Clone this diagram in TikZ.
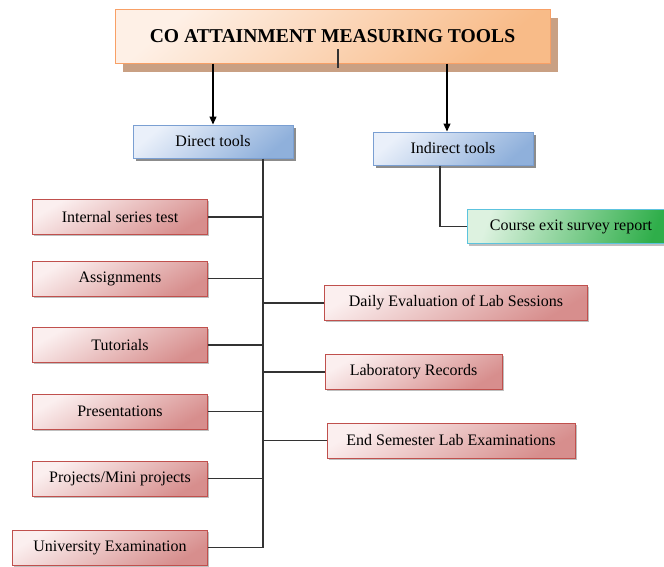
\documentclass[tikz,border=0pt]{standalone}
\usepackage{fontspec}
\setmainfont{Liberation Serif}
\usetikzlibrary{shadows,arrows.meta}

\definecolor{orTop}{HTML}{FEF0E6}
\definecolor{orBot}{HTML}{F8BB88}
\definecolor{orEdge}{HTML}{F8A066}
\definecolor{orShadow}{HTML}{C9A083}
\definecolor{blTop}{HTML}{EAF0FA}
\definecolor{blBot}{HTML}{8FB0DB}
\definecolor{blEdge}{HTML}{7A9FD2}
\definecolor{rdTop}{HTML}{FBEFEF}
\definecolor{rdBot}{HTML}{D78E8D}
\definecolor{rdEdge}{HTML}{C0504D}
\definecolor{grTop}{HTML}{DDF2E0}
\definecolor{grBot}{HTML}{2FAE4A}
\definecolor{grEdge}{HTML}{5CC3DE}
\definecolor{wire}{HTML}{333333}

\tikzset{
  box/.style={draw, line width=1pt, inner sep=0pt, align=center,
    font=\fontsize{16}{18}\selectfont, text=black},
  titlebox/.style={box, draw=orEdge, top color=orTop, bottom color=orBot,
    shading angle=40, font=\fontsize{19.6}{22}\selectfont\bfseries,
    general shadow={fill=orShadow, shadow xshift=8pt, shadow yshift=-9pt},
    minimum width=435pt, minimum height=54pt},
  bluebox/.style={box, draw=blEdge, top color=blTop, bottom color=blBot,
    shading angle=40,
    general shadow={fill=black!45, shadow xshift=3pt, shadow yshift=-3pt},
    minimum width=160pt, minimum height=33pt},
  redbox/.style={box, draw=rdEdge, top color=rdTop, bottom color=rdBot,
    shading angle=30,
    general shadow={fill=black!25, shadow xshift=1.5pt, shadow yshift=-1.5pt},
    minimum height=35pt},
  greenbox/.style={box, draw=grEdge, top color=grTop, bottom color=grBot,
    shading angle=70,
    general shadow={fill=black!25, shadow xshift=2pt, shadow yshift=-2pt},
    minimum width=208pt, minimum height=34pt},
  wireline/.style={draw=wire, line width=1.3pt},
  arr/.style={draw=black, line width=1.2pt, -{Triangle[length=8pt,width=7pt]}}
}

\begin{document}
\begin{tikzpicture}[x=1pt,y=-1pt]
\useasboundingbox (0,0) rectangle (664,566);

% top level
\node[titlebox] (title) at (332.5,36) {CO ATTAINMENT MEASURING TOOLS};
\draw[wireline] ([xshift=5.5pt,yshift=-13pt]title.center) -- ++(0,19);

% two branches
\node[bluebox] (direct) at (213,141.5) {Direct tools};
\node[bluebox] (indirect) at (453,148.5) {Indirect tools};
\node[greenbox] (course) at (571,226.5) {Course exit survey report};

% direct tools, left column
\node[redbox, minimum width=175pt] (ist)  at (120,217) {Internal series test};
\node[redbox, minimum width=175pt] (asg)  at (120,278.5) {Assignments};
\node[redbox, minimum width=175pt] (tut)  at (120,345) {Tutorials};
\node[redbox, minimum width=175pt] (pres) at (120,411.5) {Presentations};
\node[redbox, minimum width=175pt] (proj) at (120,478.5) {Projects/Mini projects};
\node[redbox, minimum width=195pt] (univ) at (110,547.5) {University Examination};

% direct tools, right column
\node[redbox, minimum width=263pt] (daily)  at (456,303) {Daily Evaluation of Lab Sessions};
\node[redbox, minimum width=177pt] (labrec) at (413.5,372) {Laboratory Records};
\node[redbox, minimum width=248pt] (endsem) at (451,440.5) {End Semester Lab Examinations};

% arrows from the title
\coordinate (inin) at ([xshift=-6pt]indirect.north);
\draw[arr] (title.south -| direct.north) -- (direct.north);
\draw[arr] (title.south -| inin) -- (inin);

% indirect branch
\coordinate (indrop) at ([xshift=-13pt]indirect.south);
\draw[wireline] (indrop) |- (course.west);

% direct trunk and its branches
\coordinate (trunk) at (263,159);
\draw[wireline] (direct.south -| trunk) -- (univ.east -| trunk) -- (univ.east);
\foreach \b in {ist,asg,tut,pres,proj}
  \draw[wireline] (\b.east) -- (\b.east -| trunk);
\foreach \b in {daily,labrec,endsem}
  \draw[wireline] (\b.west) -- (\b.west -| trunk);
\end{tikzpicture}
\end{document}
